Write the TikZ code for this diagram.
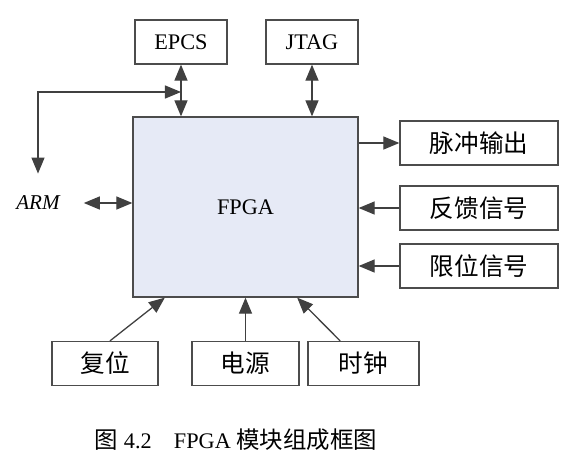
\documentclass[tikz,border=0pt]{standalone}
\usepackage{fontspec}
\setmainfont{Liberation Serif}
\newfontfamily\cjk{Noto Sans CJK SC}
\usetikzlibrary{arrows.meta}

\tikzset{
  box/.style={draw=black!70, line width=1.1pt, minimum height=1.32cm, inner sep=0pt, font=\fontsize{19}{22}\selectfont},
  cbox/.style={box, font=\fontsize{21}{24}\selectfont\cjk},
  link/.style={draw=black!75, line width=1.1pt},
  >={Triangle[length=4.8mm,width=3.9mm]}
}

\begin{document}
\begin{tikzpicture}[x=0.03cm, y=-0.03cm]
        \useasboundingbox (0,0) rectangle (575,468);

        \node[box, minimum width=2.76cm] (epcs) at (181,42) {EPCS};
        \node[box, minimum width=2.76cm] (jtag) at (312,42) {JTAG};
        \node[box, fill={rgb,255:red,230;green,234;blue,246}, minimum width=6.75cm, minimum height=5.4cm] (fpga) at (245.5,207) {FPGA};
        \node[font=\fontsize{18}{21}\selectfont\itshape] (arm) at (38,203) {ARM};

        \node[cbox, minimum width=4.74cm] (pulse) at (479,143) {脉冲输出};
        \node[cbox, minimum width=4.74cm] (feedback) at (479,208) {反馈信号};
        \node[cbox, minimum width=4.74cm] (limit) at (479,266) {限位信号};

        \node[cbox, minimum width=3.18cm] (reset) at (105,363.5) {复位};
        \node[cbox, minimum width=3.21cm] (power) at (245.5,363.5) {电源};
        \node[cbox, minimum width=3.33cm] (clock) at (363.5,363.5) {时钟};

        \coordinate (join) at (181,92);

        \draw[link, <->] (epcs.south) -- (epcs.south |- fpga.north);
        \draw[link, <->] (jtag.south) -- (jtag.south |- fpga.north);
        \draw[link, <->, shorten >=0.55cm] (join) -| (arm.north);
        \draw[link, <->, shorten <=0.6cm] (arm.east) -- (fpga.west |- arm);

        \draw[link, ->] (fpga.east |- pulse) -- (pulse.west);
        \draw[link, ->] (feedback.west) -- (fpga.east |- feedback);
        \draw[link, ->] (limit.west) -- (fpga.east |- limit);

        \draw[link, ->] ([xshift=0.15cm]reset.north) -- ([xshift=-2.42cm]fpga.south);
        \draw[link, ->] (power.north) -- (fpga.south);
        \draw[link, ->] ([xshift=-0.7cm]clock.north) -- ([xshift=1.55cm]fpga.south);

        \node[font=\fontsize{19}{22}\selectfont] (caption) at (236,440) {{\fontsize{20}{23}\selectfont\cjk 图} 4.2\quad FPGA {\fontsize{20}{23}\selectfont\cjk 模块组成框图}};
\end{tikzpicture}
\end{document}
